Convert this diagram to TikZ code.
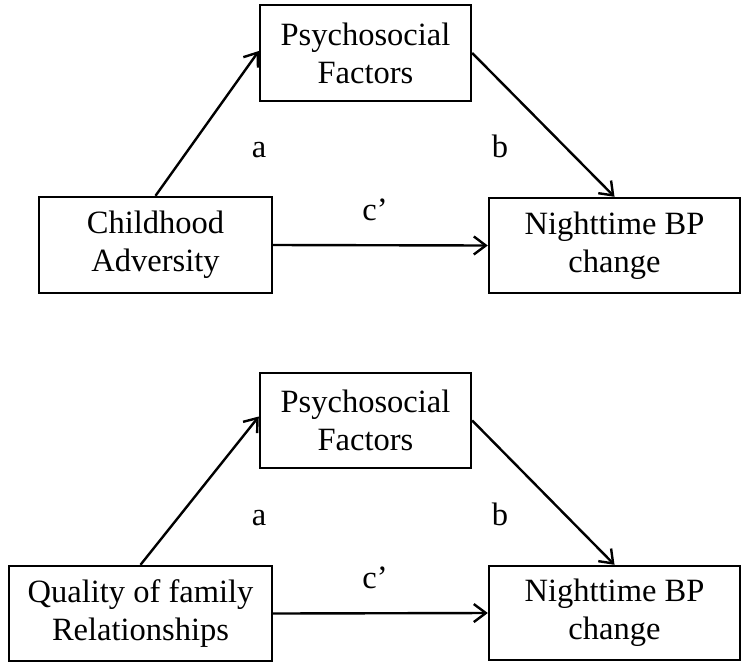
\documentclass[tikz,border=0pt]{standalone}
\usepackage{fontspec}
\setmainfont{Liberation Serif}
\usetikzlibrary{arrows.meta}
\begin{document}
\begin{tikzpicture}[x=1pt,y=-1pt,
  box/.style={draw,line width=2.4pt,align=center,inner sep=0pt,
    font=\fontsize{32.5}{38}\selectfont},
  conn/.style={line width=2.4pt,-{Straight Barb[length=12pt,width=18pt,line width=2.4pt]}},
  lbl/.style={anchor=base,inner sep=0pt,font=\fontsize{32.5}{38}\selectfont}]
\useasboundingbox (0,0) rectangle (743,667);
% top diagram
\node[box,minimum width=211pt,minimum height=96pt] (pf1) at (365.5,53) {Psychosocial\\Factors};
\node[box,minimum width=233pt,minimum height=96pt] (ca) at (155.5,245) {Childhood\\Adversity};
\node[box,minimum width=251pt,minimum height=95pt] (nb1) at (614.5,245.5) {Nighttime BP\\change};
\draw[conn] (ca.north) -- ([yshift=2pt]pf1.west);
\draw[conn] (pf1.east) -- (nb1.north);
\draw[conn] (ca.east) -- (nb1.west);
\node[lbl] (a1) at (259,157) {a};
\node[lbl] (b1) at (500,157) {b};
\node[lbl] (c1) at (375,220) {c’};
% bottom diagram
\node[box,minimum width=211pt,minimum height=95pt] (pf2) at (365.5,420.5) {Psychosocial\\Factors};
\node[box,minimum width=263pt,minimum height=95pt] (qf) at (140.5,613.5) {Quality of family\\Relationships};
\node[box,minimum width=251pt,minimum height=94pt] (nb2) at (614.5,613) {Nighttime BP\\change};
\draw[conn] (qf.north) -- ([yshift=4pt]pf2.west);
\draw[conn] (pf2.east) -- (nb2.north);
\draw[conn] (qf.east) -- (nb2.west);
\node[lbl] (a2) at (259,525) {a};
\node[lbl] (b2) at (500,525) {b};
\node[lbl] (c2) at (375,588) {c’};
\end{tikzpicture}
\end{document}
